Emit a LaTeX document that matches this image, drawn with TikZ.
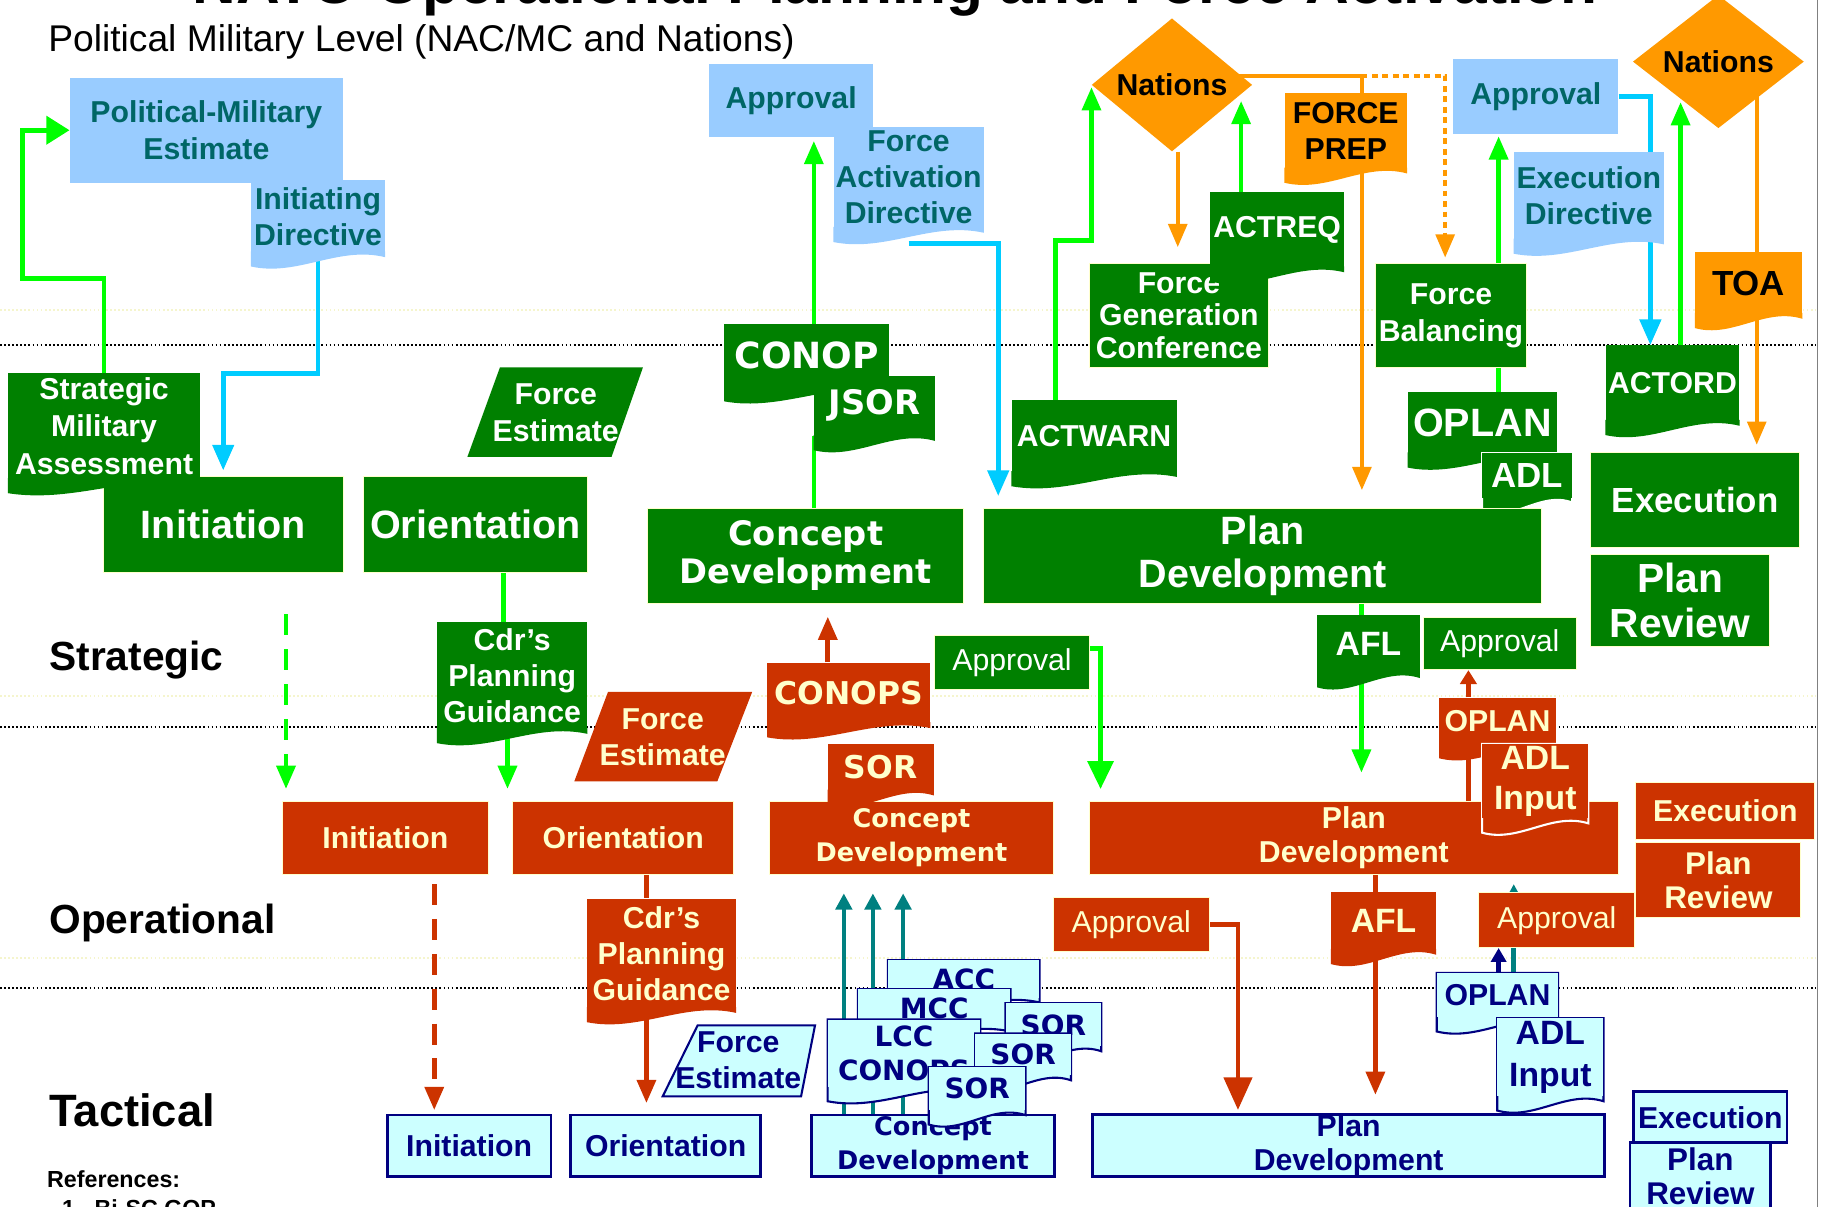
\documentclass[tikz,border=0pt]{standalone}
\usepackage{fontspec}
\setmainfont{Liberation Sans}
\newfontfamily\verdfont{DejaVu Sans}
\usepackage{tikz}
\usetikzlibrary{shapes,arrows.meta,calc,backgrounds}

\definecolor{sgreen}{RGB}{0,128,0}
\definecolor{lgreen}{RGB}{0,255,0}
\definecolor{ored}{RGB}{204,51,0}
\definecolor{cream}{RGB}{255,255,204}
\definecolor{tcyan}{RGB}{204,255,255}
\definecolor{navy}{RGB}{0,0,128}
\definecolor{pblue}{RGB}{153,204,255}
\definecolor{pteal}{RGB}{0,102,102}
\definecolor{lcyan}{RGB}{0,204,255}
\definecolor{orng}{RGB}{255,153,0}
\definecolor{teal2}{RGB}{0,128,128}
\definecolor{faint}{RGB}{245,245,205}

% box from corner to corner (picture units)
\tikzset{span/.style n args={4}{minimum width={(#3-#1)*1pt}, minimum height={(#4-#2)*1pt},
  at={({(#1+#3)/2},{(#2+#4)/2})}}}
% document shape: wavy bottom hung below the node
\tikzset{doc/.style 2 args={append after command={\pgfextra{\let\docnode\tikzlastnode
  \begin{pgfinterruptpath}
    \fill [#1] ([yshift=1pt]\docnode.south west) -- ([yshift=-12pt]\docnode.south west)
      .. controls ($(\docnode.south west)!0.35!(\docnode.south east)+(0,-21pt)$)
      and ($(\docnode.south west)!0.65!(\docnode.south east)+(0,6pt)$)
      .. ([yshift=-4pt]\docnode.south east) -- ([yshift=1pt]\docnode.south east) -- cycle;
    \path [draw=#2, line width=1.8pt] (\docnode.north west) -- ([yshift=-12pt]\docnode.south west)
      .. controls ($(\docnode.south west)!0.35!(\docnode.south east)+(0,-21pt)$)
      and ($(\docnode.south west)!0.65!(\docnode.south east)+(0,6pt)$)
      .. ([yshift=-4pt]\docnode.south east) -- (\docnode.north east) -- cycle;
  \end{pgfinterruptpath}}}}}

\tikzstyle{fbig} = [font=\bfseries\fontsize{34}{37}\selectfont]
\tikzstyle{fmid} = [font=\bfseries\fontsize{26}{31}\selectfont]
\tikzstyle{freg} = [font=\fontsize{26}{30}\selectfont]
\tikzstyle{fverd} = [font=\verdfont\bfseries\fontsize{29}{33}\selectfont]
\tikzstyle{fverds} = [font=\verdfont\bfseries\fontsize{24}{28}\selectfont]

\tikzstyle{sbox} = [rectangle, inner sep=0pt, fill=sgreen, draw=cream, line width=0.8pt, text=white, align=center]
\tikzstyle{obox} = [rectangle, inner sep=0pt, fill=ored, draw=cream, line width=0.8pt, text=cream, align=center]
\tikzstyle{tbox} = [rectangle, inner sep=0pt, fill=tcyan, draw=navy, line width=2.4pt, text=navy, align=center]
\tikzstyle{pbox} = [rectangle, inner sep=0pt, fill=pblue, text=pteal, align=center]
\tikzstyle{nation} = [diamond, inner sep=0pt, fill=orng, text=black, font=\bfseries\fontsize{26}{30}\selectfont]
\tikzstyle{docbase} = [rectangle, inner sep=0pt, align=center]
\tikzstyle{gdoc} = [docbase, fill=sgreen, text=white, doc={sgreen}{none}]
\tikzstyle{gdocw} = [docbase, fill=sgreen, text=white, doc={sgreen}{white}]
\tikzstyle{rdoc} = [docbase, fill=ored, text=cream, doc={ored}{none}]
\tikzstyle{rdocw} = [docbase, fill=ored, text=cream, doc={ored}{white}]
\tikzstyle{pdoc} = [docbase, fill=pblue, text=pteal, doc={pblue}{none}]
\tikzstyle{odoc} = [docbase, fill=orng, text=black, doc={orng}{none}]
\tikzstyle{tdoc} = [docbase, fill=tcyan, text=navy, doc={tcyan}{navy}]
\tikzstyle{label} = [anchor=base west, text=black]

\tikzstyle{gline} = [draw=lgreen, line width=4pt, -{Triangle[length=20pt,width=16pt]}]
\tikzstyle{gbar} = [draw=lgreen, line width=4pt]
\tikzstyle{gdash} = [gline, dash pattern=on 18pt off 12pt]
\tikzstyle{cline} = [draw=lcyan, line width=4pt, -{Triangle[length=22pt,width=18pt]}]
\tikzstyle{oline} = [draw=orng, line width=3.5pt, -{Triangle[length=20pt,width=16pt]}]
\tikzstyle{rline} = [draw=ored, line width=4pt, -{Triangle[length=20pt,width=16pt]}]
\tikzstyle{rbar} = [draw=ored, line width=4pt]
\tikzstyle{rdash} = [rline, dash pattern=on 18pt off 12pt]
\tikzstyle{tline} = [draw=teal2, line width=4pt, -{Triangle[length=14pt,width=14pt]}]
\tikzstyle{nline} = [draw=navy, line width=4pt, -{Triangle[length=12pt,width=13pt]}]
\tikzstyle{dotline} = [draw=black, line width=1.6pt, dash pattern=on 1.5pt off 2pt]
\tikzstyle{faintline} = [draw=faint, line width=1.6pt, dash pattern=on 1.5pt off 2pt]

\begin{document}
\begin{tikzpicture}[x=1pt, y=-1pt]
  \path [use as bounding box, clip] (0,0) rectangle (1568,1038);

  % headings
  \node [anchor=base, font=\bfseries\fontsize{52}{60}\selectfont] (title) at (770,3) {NATO Operational Planning and Force Activation};
  \node [label, font=\fontsize{32}{36}\selectfont] (lpol) at (38,44) {Political Military Level (NAC/MC and Nations)};
  \node [label, font=\bfseries\fontsize{35}{40}\selectfont] (lstrat) at (39,577) {Strategic};
  \node [label, font=\bfseries\fontsize{35}{40}\selectfont] (lop) at (39,803) {Operational};
  \node [label, font=\bfseries\fontsize{39}{44}\selectfont] (ltac) at (39,969) {Tactical};
  \node [label, font=\bfseries\fontsize{20}{24}\selectfont] (refs) at (37,1021) {References:};
  \node [label, font=\bfseries\fontsize{20}{24}\selectfont] (ref1) at (50,1046) {1.\ \ Bi-SC GOP};

  % political-military level
  \node [pbox, fmid, span={60}{67}{295}{157}] (pme) {Political-Military\\Estimate};
  \node [pdoc, fmid, span={216}{155}{331}{217}] (inidir) {Initiating\\Directive};
  \node [pbox, fmid, span={610}{55}{751}{118}] (appr1) {Approval};
  \node [pdoc, fmid, span={717}{109}{846}{196}] (fad) {Force\\Activation\\Directive};
  \node [pbox, fmid, span={1250}{51}{1392}{115}] (appr2) {Approval};
  \node [pdoc, fmid, span={1302}{131}{1431}{206}] (exdir) {Execution\\Directive};
  \node [nation, minimum width=138pt, minimum height=90pt] (nat1) at (1008,73) {Nations};
  \node [nation, minimum width=147pt, minimum height=94pt] (nat2) at (1478,53) {Nations};
  \node [odoc, fmid, span={1105}{80}{1210}{145}] (fprep) {FORCE\\PREP};
  \node [odoc, font=\bfseries\fontsize{30}{34}\selectfont, span={1458}{217}{1550}{270}] (toa) {TOA};

  % strategic level
  \node [sbox, font=\bfseries\fontsize{26}{28}\selectfont, span={937}{227}{1091}{316}] (fgc) {Force\\Generation\\Conference};
  \node [gdoc, fmid, span={1041}{165}{1156}{230}] (actreq) {ACTREQ};
  \node [sbox, font=\bfseries\fontsize{26}{32}\selectfont, span={1183}{227}{1313}{316}] (fbal) {Force\\Balancing};
  \node [gdoc, fmid, span={870}{344}{1012}{406}] (actwarn) {ACTWARN};
  \node [gdoc, font=\bfseries\fontsize{34}{38}\selectfont, span={1211}{337}{1339}{390}] (goplan) {OPLAN};
  \node [gdocw, font=\bfseries\fontsize{30}{34}\selectfont, span={1275}{390}{1352}{428}] (gadl) {ADL};
  \node [gdoc, fmid, span={1381}{297}{1496}{362}] (actord) {ACTORD};
  \node [sbox, font=\bfseries\fontsize{30}{34}\selectfont, span={1368}{389}{1548}{471}] (sexe) {Execution};
  \node [sbox, font=\bfseries\fontsize{35}{38}\selectfont, span={1368}{477}{1522}{556}] (srev) {Plan\\Review};

  \node [sbox, fbig, span={89}{410}{295}{492}] (sinit) {Initiation};
  \node [sbox, fbig, span={313}{410}{505}{492}] (sori) {Orientation};
  \node [gdoc, font=\bfseries\fontsize{26}{32}\selectfont, span={7}{321}{172}{412}] (sma) {Strategic\\Military\\Assessment};
  \fill [sgreen] (430,316) -- (553,316) -- (526,393) -- (402,393) -- cycle;
  \node [text=white, fmid, align=center] (sfe) at (478,355) {Force\\Estimate};
  \node [sbox, fverd, span={557}{437}{829}{519}] (scd) {Concept\\Development};
  \node [gdoc, font=\verdfont\bfseries\fontsize{31}{34}\selectfont, span={623}{279}{765}{333}] (conop) {CONOP};
  \node [gdoc, font=\verdfont\bfseries\fontsize{29}{33}\selectfont, span={700}{323}{804}{375}] (jsor) {JSOR};
  \node [sbox, fbig, span={846}{437}{1326}{519}] (spd) {Plan\\Development};

  % strategic to operational
  \node [gdoc, fmid, span={376}{535}{505}{627}] (gcdr) {Cdr’s\\Planning\\Guidance};
  \fill [ored] (523,595) -- (647,595) -- (617,672) -- (494,672) -- cycle;
  \node [text=cream, fmid, align=center] (rfe) at (570,634) {Force\\Estimate};
  \node [rdoc, font=\verdfont\bfseries\fontsize{27}{30}\selectfont, span={660}{570}{800}{622}] (cops) {CONOPS};
  \node [sbox, freg, span={804}{547}{937}{593}] (appr3) {Approval};
  \node [gdoc, font=\bfseries\fontsize{29}{33}\selectfont, span={1133}{529}{1221}{579}] (gafl) {AFL};
  \node [sbox, freg, span={1224}{531}{1356}{576}] (appr4) {Approval};

  % operational level
  \node [obox, fmid, span={243}{689}{420}{752}] (oinit) {Initiation};
  \node [obox, fmid, span={441}{689}{631}{752}] (oori) {Orientation};
  \node [obox, font=\verdfont\bfseries\fontsize{22}{29}\selectfont, span={662}{689}{906}{752}] (ocd) {Concept\\Development};
  \node [rdoc, font=\verdfont\bfseries\fontsize{27}{30}\selectfont, span={712}{640}{803}{680}] (rsor) {SOR};
  \node [obox, font=\bfseries\fontsize{26}{29}\selectfont, span={937}{689}{1392}{752}] (opd) {Plan\\Development};
  \node [rdoc, fmid, span={1238}{600}{1338}{640}] (roplan) {OPLAN};
  \node [rdocw, font=\bfseries\fontsize{29}{35}\selectfont, span={1275}{640}{1366}{704}] (radl) {ADL\\Input};
  \node [obox, fmid, span={1407}{673}{1561}{722}] (oexe) {Execution};
  \node [obox, font=\bfseries\fontsize{27}{29}\selectfont, span={1407}{725}{1549}{789}] (orev) {Plan\\Review};

  % operational to tactical
  \node [rdoc, fmid, span={505}{773}{633}{867}] (rcdr) {Cdr’s\\Planning\\Guidance};
  \filldraw [fill=tcyan, draw=navy, line width=1.8pt] (600,882) -- (701,882) -- (689,943) -- (570,943) -- cycle;
  \node [text=navy, fmid, align=center] (tfe) at (635,912) {Force\\Estimate};
  \node [obox, freg, span={906}{772}{1040}{818}] (rapp1) {Approval};
  \node [rdoc, font=\bfseries\fontsize{29}{33}\selectfont, span={1145}{767}{1235}{817}] (rafl) {AFL};
  \node [obox, freg, span={1272}{768}{1406}{815}] (rapp2) {Approval};

  % tactical level
  \node [tbox, fmid, span={333}{959}{474}{1012}] (tinit) {Initiation};
  \node [tbox, fmid, span={491}{959}{654}{1012}] (tori) {Orientation};
  \node [tbox, font=\verdfont\bfseries\fontsize{22}{29}\selectfont, span={698}{959}{907}{1012}] (tcd) {Concept\\Development};
  \node [tdoc, fverds, span={764}{826}{894}{858}] (acc) {ACC};
  \node [tdoc, fverds, span={738}{851}{869}{883}] (mcc) {MCC};
  \node [tdoc, font=\verdfont\bfseries\fontsize{24}{30}\selectfont, span={712}{877}{843}{935}] (lcc) {LCC\\CONOPS};
  \node [tdoc, fverds, span={865}{863}{947}{900}] (sor1) {SOR};
  \node [tdoc, fverds, span={839}{889}{921}{925}] (sor2) {SOR};
  \node [tdoc, fverds, span={799}{918}{882}{955}] (sor3) {SOR};
  \node [tbox, font=\bfseries\fontsize{26}{29}\selectfont, span={940}{959}{1380}{1012}] (tpd) {Plan\\Development};
  \node [tdoc, fmid, span={1236}{837}{1340}{875}] (toplan) {OPLAN};
  \node [tdoc, font=\bfseries\fontsize{29}{36}\selectfont, span={1288}{876}{1379}{943}] (tadl) {ADL\\Input};
  \node [tbox, fmid, span={1405}{939}{1537}{983}] (texe) {Execution};
  \node [tbox, font=\bfseries\fontsize{27}{29}\selectfont, span={1402}{983}{1523}{1040}] (trev) {Plan\\Review};

  \begin{pgfonlayer}{background}
    % level separators
    \path [faintline] (0,267) -- (1562,267);
    \path [faintline] (0,599) -- (1562,599);
    \path [faintline] (0,824) -- (1562,824);
    \path [dotline] (0,297) -- (1562,297);
    \path [dotline] (0,625) -- (1562,625);
    \path [dotline] (0,850) -- (1562,850);
    \path [draw=gray, line width=1.2pt] (1563,0) -- (1563,1038);

    % political-military loop
    \path [gline, -{Triangle[length=20pt,width=24pt]}] (sma.north) -- ++(0,-81) -- ++(-70,0) |- (pme.west);
    \path [cline, shorten >=5pt] (inidir.south) -- ++(0,104) -| (sinit.north);
    \path [gline, shorten >=3pt] ([xshift=6pt]conop.north) -- ([xshift=6pt]conop.north |- appr1.south);
    \path [gbar] ([xshift=7pt]scd.north) -- ([xshift=7pt]scd.north |- jsor.south);
    \path [cline, shorten >=10pt] ([yshift=-13pt]fad.south) -| ([xshift=13pt]spd.north west);

    % force activation
    \path [gline, shorten >=2pt] ([xshift=-33pt]actwarn.north) -- ++(0,-137) -| (nat1.west);
    \path [oline, shorten >=14pt] ([xshift=5pt]nat1.south) -- ([xshift=5pt]nat1.south |- fgc.north);
    \path [gline] ([xshift=-31pt]actreq.north) -- ++(0,-78);
    \path [oline, shorten >=15pt] ([yshift=8pt]nat1.center) -| ([xshift=-155pt]spd.north east);
    \path [oline, dash pattern=on 5pt off 4pt, shorten >=5pt] ([yshift=8pt,xshift=163pt]nat1.center) -| ([xshift=-5pt]fbal.north);
    \path [gline, shorten >=2pt] ([xshift=41pt]fbal.north) -- ([xshift=41pt]fbal.north |- appr2.south);
    \path [gbar] ([xshift=41pt]fbal.south) -- ([xshift=41pt]fbal.south |- goplan.north);
    \path [cline] (appr2.east) -| ([xshift=-19pt]actord.north);
    \path [gline] ([xshift=7pt]actord.north) -- ++(0,-209);
    \path [oline, shorten >=6pt] ([xshift=33pt]nat2.center) -- ([xshift=53pt]sexe.north);

    % strategic to operational
    \path [gdash, shorten >=10pt] ([xshift=54pt,yshift=-36pt]sinit.south) -- ([xshift=54pt]sinit.south |- oinit.north);
    \path [gbar] ([xshift=24pt]sori.south) -- ([xshift=24pt]sori.south |- gcdr.north);
    \path [gline, shorten >=10pt] ([xshift=-4pt]gcdr.south) -- ([xshift=-4pt]gcdr.south |- oori.north);
    \path [rline, shorten >=11pt] ([xshift=-18pt]cops.north) -- ([xshift=-18pt]cops.north |- scd.south);
    \path [gline, -{Triangle[length=24pt,width=22pt]}] ([yshift=12pt]appr3.east) -| ([xshift=10pt,yshift=10pt]opd.north west);
    \path [gbar] ([xshift=-6pt]gafl.north) -- ([xshift=-6pt]gafl.north |- spd.south);
    \path [gline, shorten >=24pt] ([xshift=-6pt]gafl.south) -- ([xshift=-6pt]gafl.south |- opd.north);
    \path [rline, -{Triangle[length=12pt,width=14pt]}] ([xshift=-25pt]roplan.north) -- ([xshift=-25pt]roplan.north |- appr4.south);
    \path [rbar] ([xshift=-25pt]roplan.south) -- ([xshift=-25pt]roplan.south |- opd.north);

    % operational to tactical
    \path [rdash, shorten >=3pt] ([xshift=42pt,yshift=-8pt]oinit.south) -- ([xshift=42pt]oinit.south |- tinit.north);
    \path [rbar] ([xshift=20pt]oori.south) -- ([xshift=20pt]oori.south |- rcdr.north);
    \path [rline, shorten >=9pt] ([xshift=-13pt]rcdr.south) -- ([xshift=-13pt]rcdr.south |- tori.north);
    \path [tline, shorten >=16pt] ([xshift=29pt]tcd.north west) -- ([xshift=29pt]tcd.north west |- ocd.south);
    \path [tline, shorten >=16pt] ([xshift=54pt]tcd.north west) -- ([xshift=54pt]tcd.north west |- ocd.south);
    \path [tline, shorten >=16pt] ([xshift=80pt]tcd.north west) -- ([xshift=80pt]tcd.north west |- ocd.south);
    \path [rline, -{Triangle[length=28pt,width=24pt]}, shorten >=3pt] (rapp1.east) -| ([xshift=126pt]tpd.north west);
    \path [rbar] ([xshift=-7pt]rafl.north) -- ([xshift=-7pt]rafl.north |- opd.south);
    \path [rline, shorten >=16pt] ([xshift=-7pt]rafl.south) -- ([xshift=-7pt]rafl.south |- tpd.north);
    \path [tline, shorten >=8pt] ([xshift=14pt]toplan.north) -- ([xshift=14pt]toplan.north |- opd.south);
    \path [nline] ([xshift=1pt]toplan.north) -- ([xshift=1pt]toplan.north |- rapp2.south);
  \end{pgfonlayer}
\end{tikzpicture}
\end{document}
